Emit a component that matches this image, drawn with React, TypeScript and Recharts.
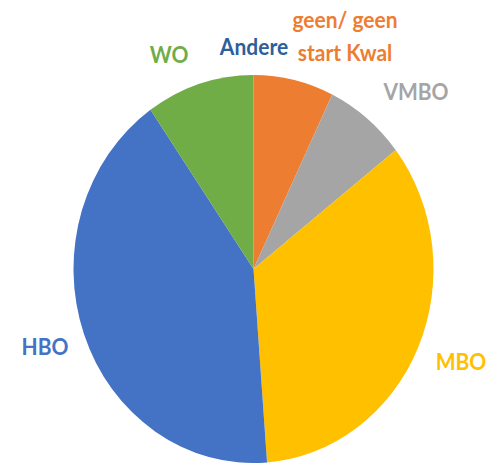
import { PieChart, Pie, Cell } from "recharts";

const categories = ["geen/ geen start Kwal", "VMBO", "MBO", "HBO", "WO", "Andere"];
const shares = [7.2, 7.3, 34.3, 41.5, 9.7, 0];

const sliceColors = ["#ED7D31", "#A5A5A5", "#FFC000", "#4472C4", "#70AD47", "#255E91"];
const labelColors = ["#ED7D31", "#A5A5A5", "#FFC000", "#4472C4", "#70AD47", "#2E5F9A"];
// label lines per slice, and where Excel placed them relative to the pie centre
const labelLines = [["geen/ geen", "start Kwal"], ["VMBO"], ["MBO"], ["HBO"], ["WO"], ["Andere"]];
const labelOffsets = [
  { dx: 91.5, dy: -223.5 },
  { dx: 162.5, dy: -156.7 },
  { dx: 207.5, dy: 93.5 },
  { dx: -208.5, dy: 79.5 },
  { dx: -84.5, dy: -191.5 },
  { dx: 0.5, dy: -198.5 },
];

const data = categories.map((name, i) => ({ name, value: shares[i] }));

const W = 501;
const H = 435;
const STRETCH = 1.078; // the reference pie is a little taller than wide

function renderLabel(props: any) {
  const { cx, cy, index } = props;
  const off = labelOffsets[index];
  const lines = labelLines[index];
  return (
    <text
      key={`lbl-${index}`}
      x={cx + off.dx}
      y={cy + off.dy}
      textAnchor="middle"
      fill={labelColors[index]}
      fontFamily="Lato, 'Open Sans', sans-serif"
      fontWeight={700}
      fontSize={21}
    >
      {lines.map((l, j) => (
        <tspan key={j} x={cx + off.dx} dy={j === 0 ? 0 : 30.5}>
          {l}
        </tspan>
      ))}
    </text>
  );
}

export default function App() {
  return (
    <div
      style={{
        position: "absolute",
        left: 0,
        top: 0,
        width: W,
        height: H,
        background: "#fff",
        transform: `scaleY(${STRETCH})`,
        transformOrigin: "0 0",
      }}
    >
      <PieChart width={W} height={H} margin={{ top: 0, right: 0, bottom: 0, left: 0 }}>
        <Pie
          data={data}
          dataKey="value"
          nameKey="name"
          cx={253.5}
          cy={249.5}
          outerRadius={180}
          startAngle={90}
          endAngle={-270}
          stroke="none"
          labelLine={false}
          label={renderLabel}
          isAnimationActive={false}
        >
          {data.map((d, i) => (
            <Cell key={d.name} fill={sliceColors[i]} />
          ))}
        </Pie>
      </PieChart>
    </div>
  );
}
